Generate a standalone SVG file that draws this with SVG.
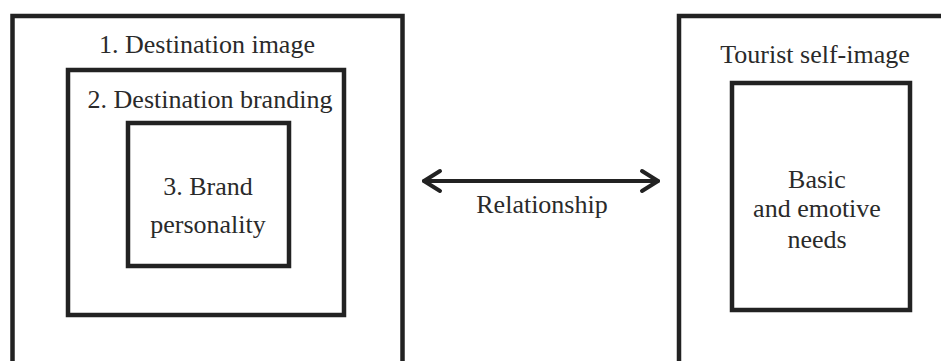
<svg xmlns="http://www.w3.org/2000/svg" width="941" height="361" viewBox="0 0 941 361">
<style>
.box{fill:none;stroke:#222;stroke-width:4.5}
.t{font-family:'Liberation Serif','Times New Roman',serif;font-size:26px;fill:#2a2a2a;text-anchor:middle}
.conn{fill:none;stroke:#222;stroke-width:4;stroke-linecap:round;stroke-linejoin:round}
</style>
<rect width="941" height="361" fill="#fff"/>
<g id="destination-image">
<rect class="box" x="12.5" y="16" width="390" height="380"/>
<text class="t" x="207" y="53">1. Destination image</text>
</g>
<g id="destination-branding">
<rect class="box" x="68" y="70" width="276" height="245"/>
<text class="t" x="210" y="108">2. Destination branding</text>
</g>
<g id="brand-personality">
<rect class="box" x="128" y="123" width="161" height="143"/>
<text class="t" x="208" y="195">3. Brand</text>
<text class="t" x="208" y="233">personality</text>
</g>
<g id="tourist-self-image">
<rect class="box" x="679" y="16" width="300" height="380"/>
<text class="t" x="815" y="63">Tourist self-image</text>
</g>
<g id="basic-needs">
<rect class="box" x="732" y="83" width="178" height="227"/>
<text class="t" x="817" y="188">Basic</text>
<text class="t" x="817" y="217">and emotive</text>
<text class="t" x="817" y="248">needs</text>
</g>
<g id="connectors">
<line class="conn" x1="424" y1="181" x2="658" y2="181"/>
<polyline class="conn" points="440,171 424,181 440,191"/>
<polyline class="conn" points="642,171 658,181 642,191"/>
<text class="t" x="542" y="213">Relationship</text>
</g>
</svg>
